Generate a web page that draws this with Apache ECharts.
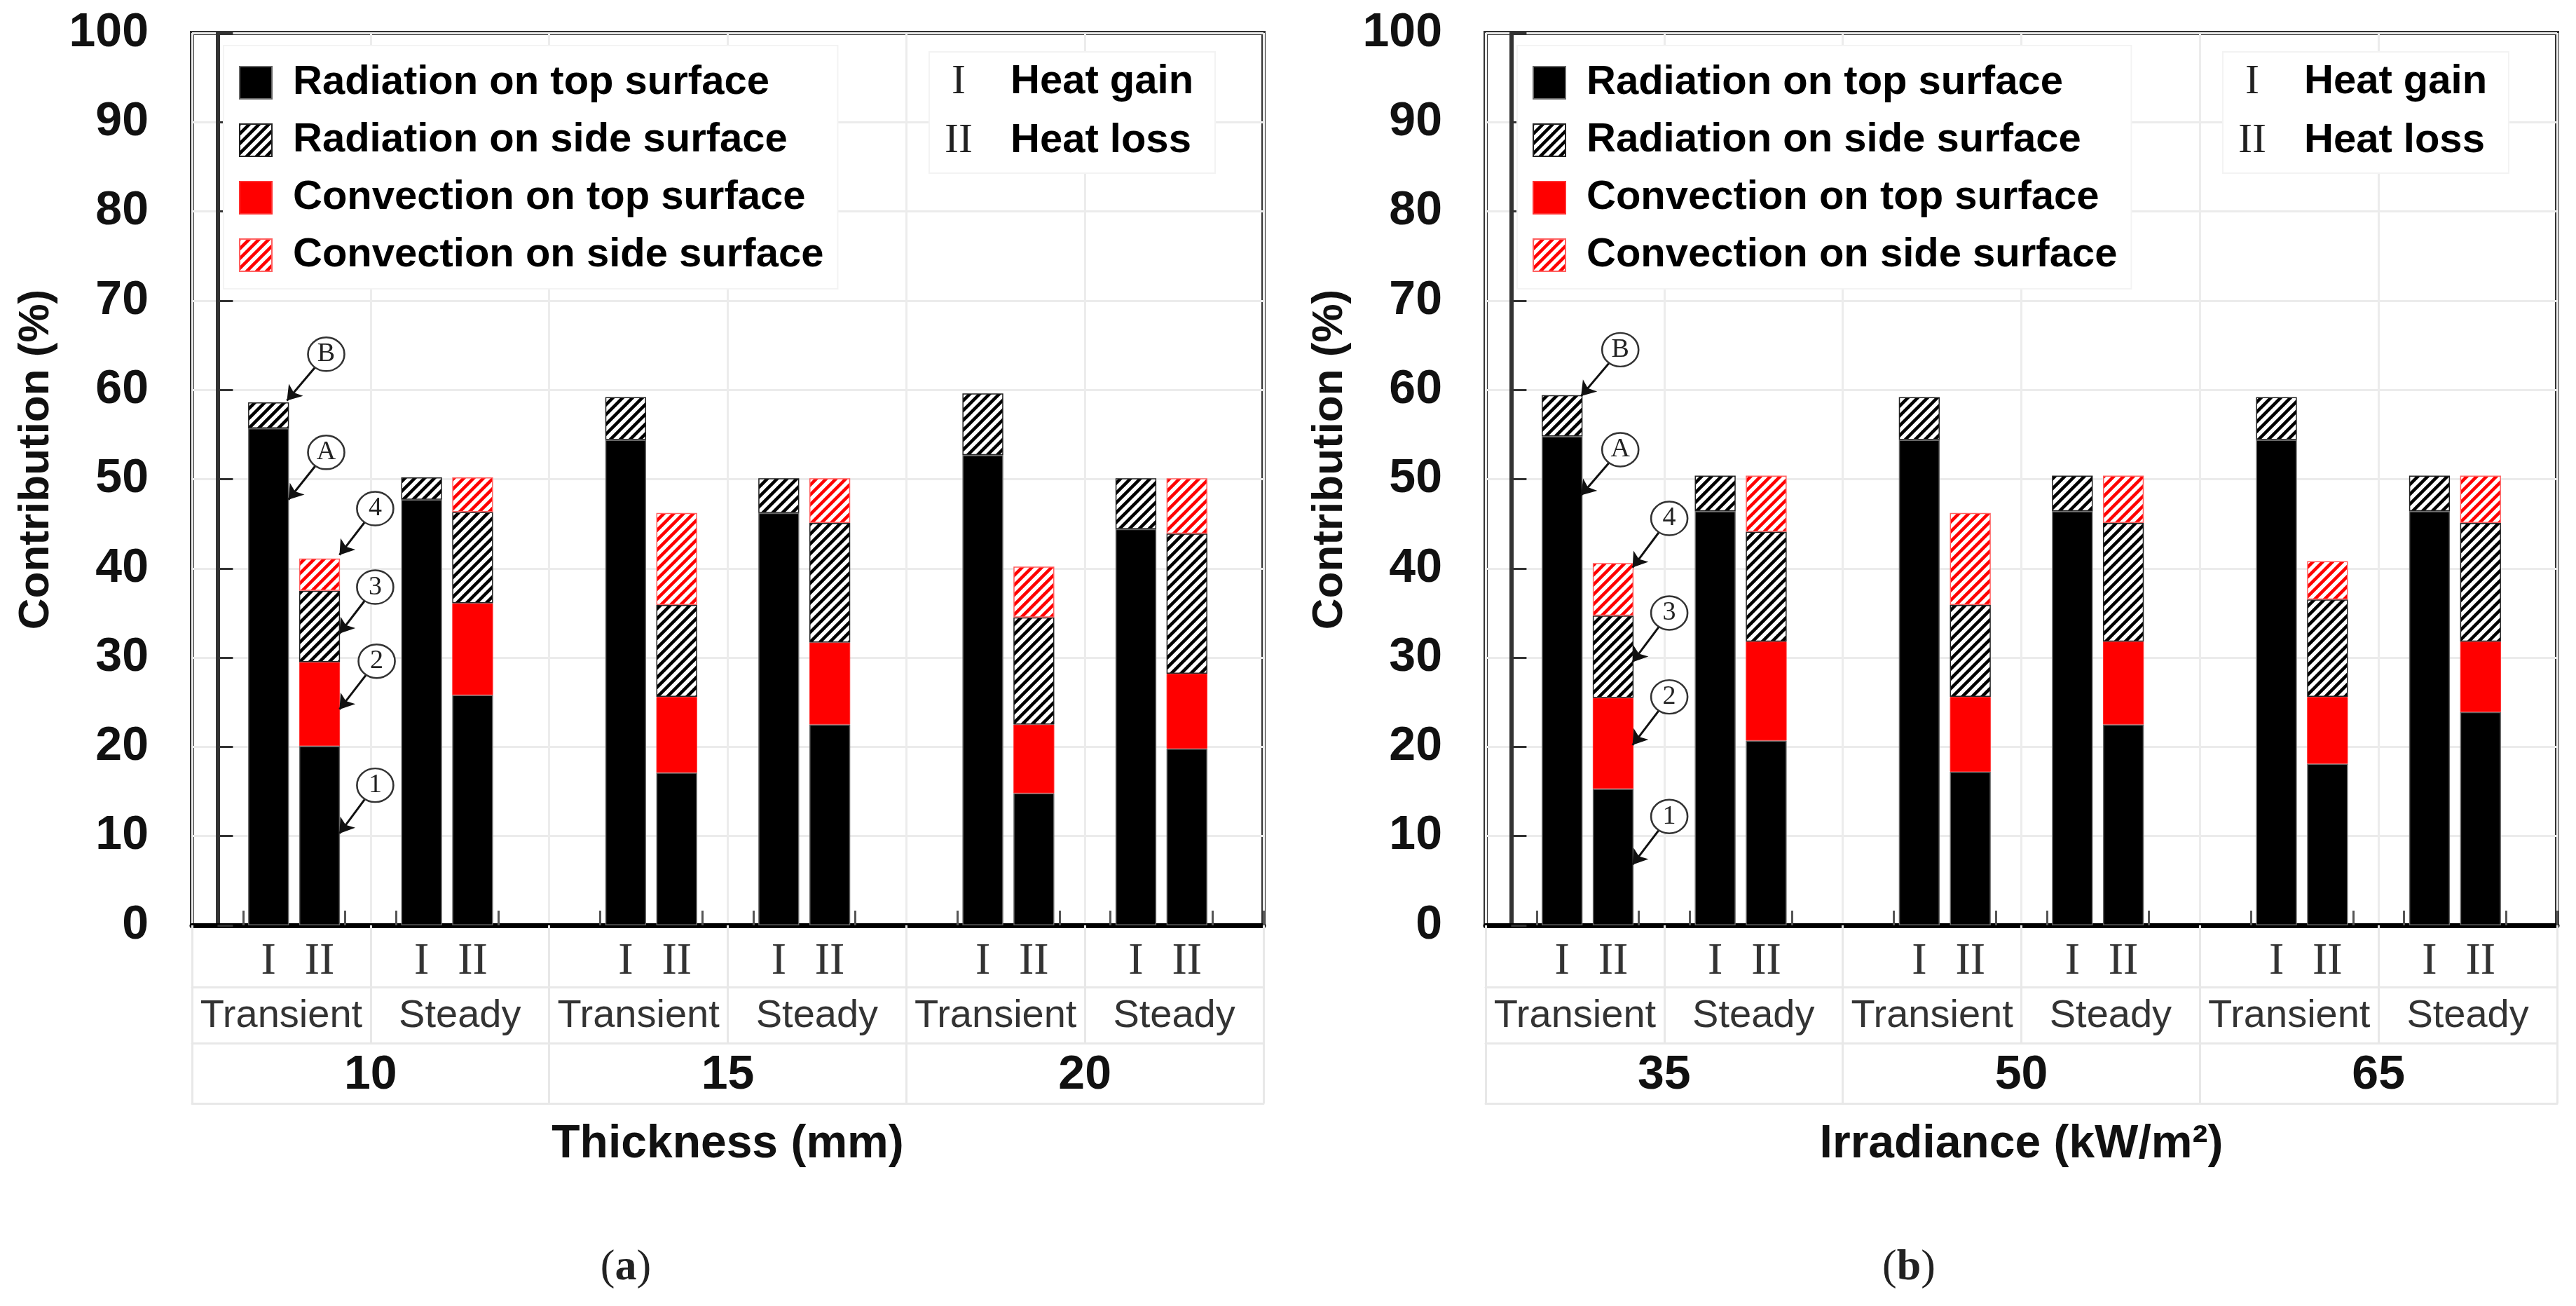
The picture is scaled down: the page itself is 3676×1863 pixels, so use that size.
<!DOCTYPE html>
<html>
<head>
<meta charset="utf-8">
<script src="https://cdn.jsdelivr.net/npm/echarts@6/dist/echarts.min.js"></script>
<style>
  html, body { margin: 0; padding: 0; background: #fff; }
  #main { width: 3676px; height: 1863px; }
</style>
</head>
<body>
<div id="main"></div>
<script>
// Heat balance contributions, (a) thickness and (b) irradiance.
// Bars per chart, in order: Transient I, Transient II, Steady I, Steady II for each group.
var groupsA = ['10', '15', '20'];
var groupsB = ['35', '50', '65'];
var modes = ['Transient', 'Steady'];
var bars = ['I', 'II'];

var radTopA   = [55.7, 20.1, 47.7, 25.8, 54.4, 17.1, 46.2, 22.5, 52.7, 14.8, 44.4, 19.8];
var convTopA  = [null, 9.4, null, 10.3, null, 8.5, null, 9.2, null, 7.7, null, 8.4];
var radSideA  = [2.9, 8.0, 2.5, 10.2, 4.8, 10.3, 3.9, 13.4, 6.9, 12.0, 5.7, 15.7];
var convSideA = [null, 3.6, null, 3.9, null, 10.3, null, 5.0, null, 5.7, null, 6.2];

var radTopB   = [54.8, 15.3, 46.4, 20.7, 54.4, 17.2, 46.4, 22.5, 54.4, 18.1, 46.4, 23.9];
var convTopB  = [null, 10.2, null, 11.1, null, 8.4, null, 9.3, null, 7.5, null, 7.9];
var radSideB  = [4.6, 9.2, 4.0, 12.3, 4.8, 10.3, 4.0, 13.3, 4.8, 10.9, 4.0, 13.3];
var convSideB = [null, 5.9, null, 6.3, null, 10.3, null, 5.3, null, 4.3, null, 5.3];

// annotation circles (x in bar-slot units, y in %) and arrow tips
var markNames = ['B', 'A', '4', '3', '2', '1'];
var circlesA = [[2.13, 64.0], [2.13, 53.0], [3.09, 46.7], [3.09, 37.9], [3.12, 29.6], [3.09, 15.7]];
var tipsA    = [[1.36, 58.8], [1.39, 47.7], [2.39, 41.5], [2.39, 32.7], [2.39, 24.2], [2.39, 10.3]];
var circlesB = [[2.14, 64.5], [2.14, 53.3], [3.10, 45.6], [3.10, 35.0], [3.10, 25.6], [3.10, 12.2]];
var tipsB    = [[1.37, 59.3], [1.37, 48.2], [2.38, 40.1], [2.38, 29.5], [2.38, 20.2], [2.38, 6.8]];

var NAMES = ['Radiation on top surface', 'Radiation on side surface', 'Convection on top surface', 'Convection on side surface'];
var NARROW = '"Liberation Sans Narrow", "Arial Narrow", "Liberation Sans", sans-serif';
var SERIF = '"Liberation Serif", "Times New Roman", serif';
var GRAY = '#e8e8e8';

function hatch(color) {
  var s = 14;
  var c = document.createElement('canvas');
  c.width = s; c.height = s;
  var g = c.getContext('2d');
  g.fillStyle = '#fff';
  g.fillRect(0, 0, s, s);
  g.strokeStyle = color;
  g.lineWidth = 4.5;
  g.beginPath();
  g.moveTo(-2, s + 2); g.lineTo(s + 2, -2);
  g.moveTo(-s / 2 - 2, s / 2 + 2); g.lineTo(s / 2 + 2, -s / 2 - 2);
  g.moveTo(s / 2 - 2, s * 1.5 + 2); g.lineTo(s * 1.5 + 2, s / 2 - 2);
  g.stroke();
  return { image: c, repeat: 'repeat' };
}
var blackHatch = hatch('#000');
var redHatch = hatch('#ff0000');

// 7 slots per group: gap, I, II, gap, I, II, gap
var SLOT = [1, 2, 4, 5];
function toSlots(vals) {
  var out = [];
  for (var i = 0; i < 21; i++) out.push(null);
  vals.forEach(function (v, k) { out[Math.floor(k / 4) * 7 + SLOT[k % 4]] = v; });
  return out;
}
var slotLabels = [];
for (var i = 0; i < 21; i++) {
  var r = i % 7;
  slotLabels.push(r === 1 || r === 4 ? bars[0] : (r === 2 || r === 5 ? bars[1] : ''));
}
var modeLabels = modes.concat(modes, modes);

var grids = [], xAxes = [], yAxes = [], series = [];

function addChart(g, left, groups, title, radTop, convTop, radSide, convSide, circles, tips) {
  grids.push({ left: left, top: 47, width: 1529, height: 1273, show: true, borderColor: '#333', borderWidth: 6, backgroundColor: 'transparent' });
  var xb = g * 5;
  // main slot axis with I / II labels
  xAxes.push({
    gridIndex: g, type: 'category', data: slotLabels, position: 'bottom',
    axisLine: { lineStyle: { color: '#000', width: 7 } },
    axisTick: { show: true, inside: true, length: 21, interval: function (i) { var m = i % 7; return m === 1 || m === 3 || m === 4 || m === 6; }, lineStyle: { color: '#555', width: 3 } },
    axisLabel: { interval: 0, margin: 20, fontFamily: SERIF, fontSize: 64, color: '#333' },
    splitLine: { show: false }
  });
  // horizontal table line under I / II row
  xAxes.push({
    gridIndex: g, type: 'category', data: [''], position: 'bottom', offset: 88,
    axisLine: { lineStyle: { color: GRAY, width: 3 } }, axisTick: { show: false }, axisLabel: { show: false }
  });
  // Transient / Steady row
  xAxes.push({
    gridIndex: g, type: 'category', data: modeLabels, position: 'bottom', offset: 168,
    axisLine: { lineStyle: { color: GRAY, width: 3 } },
    axisTick: { show: true, inside: true, length: 168, interval: 0, lineStyle: { color: GRAY, width: 3 } },
    axisLabel: { inside: true, interval: 0, margin: 10, fontFamily: NARROW, fontSize: 56, color: '#333' },
    splitLine: { show: true, interval: 0, lineStyle: { color: '#ececec', width: 3 } }
  });
  // group row
  xAxes.push({
    gridIndex: g, type: 'category', data: groups, position: 'bottom', offset: 254,
    axisLine: { lineStyle: { color: GRAY, width: 3 } },
    axisTick: { show: true, inside: true, length: 254, interval: 0, lineStyle: { color: GRAY, width: 3 } },
    axisLabel: { inside: true, interval: 0, margin: 6, fontFamily: NARROW, fontWeight: 'bold', fontSize: 68, color: '#111' },
    name: title, nameLocation: 'middle', nameGap: 26,
    nameTextStyle: { fontFamily: NARROW, fontWeight: 'bold', fontSize: 66, color: '#111' }
  });
  // hidden value axis for annotations
  xAxes.push({ gridIndex: g, type: 'value', min: -0.5, max: 20.5, show: false, position: 'top' });

  yAxes.push({
    gridIndex: g, type: 'value', min: 0, max: 100, interval: 10,
    axisLine: { show: true, lineStyle: { color: '#333', width: 6 } },
    axisTick: { show: true, inside: true, length: 22, lineStyle: { color: '#333', width: 3 } },
    axisLabel: { margin: 62, fontFamily: NARROW, fontWeight: 'bold', fontSize: 68, color: '#111' },
    splitLine: { show: true, lineStyle: { color: '#ebebeb', width: 3 } },
    name: 'Contribution (%)', nameLocation: 'middle', nameGap: 191,
    nameTextStyle: { fontFamily: NARROW, fontWeight: 'bold', fontSize: 62, color: '#111', padding: [0, 0, 0, 56] }
  });

  var stack = 's' + g;
  var common = { type: 'bar', stack: stack, xAxisIndex: xb, yAxisIndex: g, barWidth: '80%', silent: true };
  series.push(Object.assign({}, common, { name: NAMES[0], data: toSlots(radTop), itemStyle: { color: '#000', borderColor: '#666', borderWidth: 1.5 } }));
  series.push(Object.assign({}, common, { name: NAMES[2], data: toSlots(convTop), itemStyle: { color: '#ff0000', borderColor: '#ff3030', borderWidth: 1 } }));
  series.push(Object.assign({}, common, { name: NAMES[1], data: toSlots(radSide), itemStyle: { color: blackHatch, borderColor: '#222', borderWidth: 1.5 } }));
  series.push(Object.assign({}, common, { name: NAMES[3], data: toSlots(convSide), itemStyle: { color: redHatch, borderColor: '#ff6060', borderWidth: 1.5 } }));

  series.push({
    type: 'lines', coordinateSystem: 'cartesian2d', xAxisIndex: xb + 4, yAxisIndex: g, silent: true, z: 4,
    symbol: ['none', 'arrow'], symbolSize: 20,
    lineStyle: { color: '#111', width: 3, opacity: 1, curveness: 0 },
    data: circles.map(function (c, i) { return { coords: [c, tips[i]] }; })
  });
  series.push({
    type: 'scatter', xAxisIndex: xb + 4, yAxisIndex: g, silent: true, z: 5,
    symbol: 'circle', symbolSize: [52, 48],
    itemStyle: { color: '#fff', borderColor: '#333', borderWidth: 2.5, opacity: 1 },
    label: { show: true, position: 'inside', formatter: '{b}', fontFamily: SERIF, fontSize: 38, color: '#222' },
    data: circles.map(function (c, i) { return { name: markNames[i], value: c }; })
  });
}

addChart(0, 274, groupsA, 'Thickness (mm)', radTopA, convTopA, radSideA, convSideA, circlesA, tipsA);
addChart(1, 2120, groupsB, 'Irradiance (kW/m²)', radTopB, convTopB, radSideB, convSideB, circlesB, tipsB);

// dummy series so the I / II key can be a legend
series.push({ type: 'line', name: 'Heat gain', data: [], xAxisIndex: 0, yAxisIndex: 0, itemStyle: { color: 'rgba(0,0,0,0)' }, lineStyle: { color: 'rgba(0,0,0,0)' } });
series.push({ type: 'line', name: 'Heat loss', data: [], xAxisIndex: 0, yAxisIndex: 0, itemStyle: { color: 'rgba(0,0,0,0)' }, lineStyle: { color: 'rgba(0,0,0,0)' } });

function mainLegend(left) {
  return {
    data: NAMES, orient: 'vertical', left: left, top: 65, selectedMode: false,
    padding: [24, 20, 19, 22], itemWidth: 46, itemHeight: 46, itemGap: 24, icon: 'rect',
    backgroundColor: '#fff', borderColor: '#f3f3f3', borderWidth: 2,
    textStyle: { fontFamily: NARROW, fontWeight: 'bold', fontSize: 58, color: '#000', lineHeight: 58, padding: [0, 0, 0, 25] }
  };
}
function keyLegend(left) {
  return {
    data: ['Heat gain', 'Heat loss'], orient: 'vertical', left: left, top: 74, selectedMode: false,
    padding: [13, 31, 16, 0], itemWidth: 1, itemHeight: 1, itemGap: 24,
    backgroundColor: '#fff', borderColor: '#f3f3f3', borderWidth: 2,
    formatter: function (n) { return n === 'Heat gain' ? '{n|I}{t|Heat gain}' : '{n|II}{t|Heat loss}'; },
    textStyle: {
      color: '#000', fontSize: 58, lineHeight: 58,
      rich: {
        n: { fontFamily: SERIF, fontSize: 60, lineHeight: 58, width: 70, align: 'center', color: '#222' },
        t: { fontFamily: NARROW, fontWeight: 'bold', fontSize: 58, lineHeight: 58, color: '#000', padding: [0, 0, 0, 39] }
      }
    }
  };
}

var chart = echarts.init(document.getElementById('main'));
chart.setOption({
  backgroundColor: '#fff',
  animation: false,
  grid: grids,
  xAxis: xAxes,
  yAxis: yAxes,
  legend: [mainLegend(319), keyLegend(1326), mainLegend(2165), keyLegend(3172)],
  series: series,
  graphic: [
    { type: 'text', x: 893, y: 1809, style: { text: '({b|a})', align: 'center', verticalAlign: 'middle', font: '62px ' + SERIF, fill: '#222', rich: { b: { fontFamily: SERIF, fontWeight: 'bold', fontSize: 62 } } } },
    { type: 'text', x: 2724, y: 1809, style: { text: '({b|b})', align: 'center', verticalAlign: 'middle', font: '62px ' + SERIF, fill: '#222', rich: { b: { fontFamily: SERIF, fontWeight: 'bold', fontSize: 62 } } } }
  ]
});
</script>
</body>
</html>
